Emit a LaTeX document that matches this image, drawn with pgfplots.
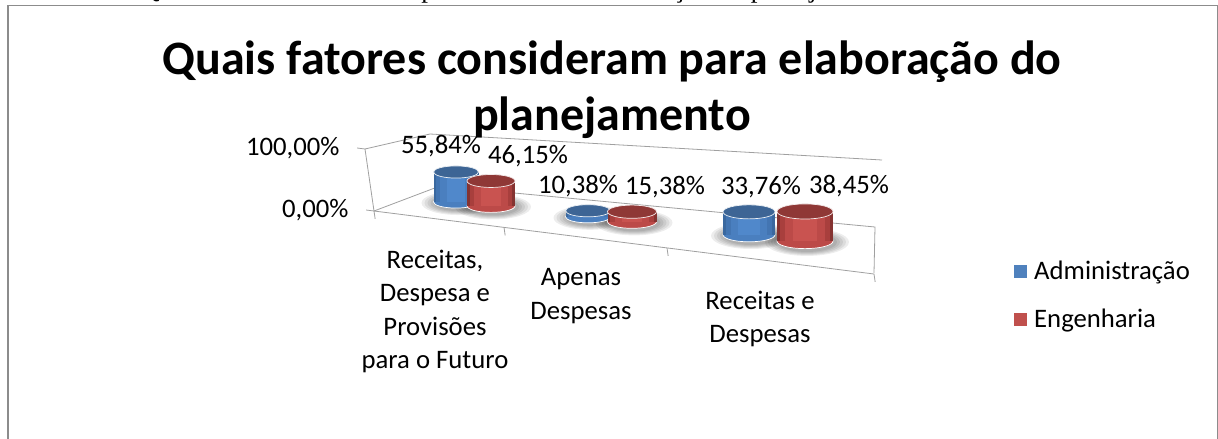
\documentclass[border=0pt]{standalone}
\usepackage{fontspec}
\setmainfont{Carlito}
\newfontfamily\timesf{Liberation Serif}
\usepackage{pgfplots}
\pgfplotsset{compat=1.18}
\definecolor{gridg}{HTML}{A0A0A0}
\definecolor{frameg}{HTML}{8C8C8C}
\definecolor{ba}{HTML}{3A689F}\definecolor{bb}{HTML}{4375B2}\definecolor{bc}{HTML}{4A7FBF}\definecolor{bd}{HTML}{5088CB}\definecolor{bt}{HTML}{3D6595}
\definecolor{ra}{HTML}{853331}\definecolor{rb}{HTML}{A83F3D}\definecolor{rc}{HTML}{BC4A48}\definecolor{rd}{HTML}{C95350}\definecolor{rt}{HTML}{8F3836}
\definecolor{lb}{HTML}{4F81BD}\definecolor{lr}{HTML}{C0504D}
% shadow: x, diameter
\newcommand\shadowlayer[3]{\addplot[only marks,mark=*,mark size={#2/2+#3},mark options={draw opacity=0,fill=black,fill opacity=.07,yscale=.33,xshift=2pt,yshift=-3pt}] coordinates {(#1,0)};}
\newcommand\shadow[2]{\shadowlayer{#1}{#2}{14}\shadowlayer{#1}{#2}{11}\shadowlayer{#1}{#2}{8}\shadowlayer{#1}{#2}{5}\shadowlayer{#1}{#2}{2}}
% cylinder: x, value, px per percent, diameter, colour prefix, label, dx, dy
\newcommand\cyl[8]{%
 \addplot[only marks,mark=*,mark size={#4/2},mark options={draw=white,line width=.7pt,fill=#5c,yscale=.27}] coordinates {(#1,0)};
 \addplot[no markers,line width={#4*1pt},color=#5a,y filter/.expression={y*#3}] coordinates {(#1,0)(#1,#2)};
 \addplot[no markers,line width={#4*.88pt},color=#5b,y filter/.expression={y*#3}] coordinates {(#1,0)(#1,#2)};
 \addplot[no markers,line width={#4*.7pt},color=#5c,y filter/.expression={y*#3}] coordinates {(#1,0)(#1,#2)};
 \addplot[no markers,line width={#4*.42pt},color=#5d,y filter/.expression={y*#3}] coordinates {(#1,0)(#1,#2)};
 \addplot[only marks,mark=*,mark size={#4/2},mark options={draw=white!90!#5t,line width=.7pt,fill=#5t,yscale=.27},y filter/.expression={y*#3},
   nodes near coords={#6},point meta=y,nodes near coords style={anchor=center,text=black,font=\fontsize{26.7}{30}\selectfont,xshift=#7pt,yshift=#8pt}] coordinates {(#1,#2)};
}
\begin{document}
\begin{tikzpicture}[x=1pt,y=-1pt]
\path[use as bounding box] (0,0) rectangle (1218,439);
\fill[white] (0,0) rectangle (1218,439);
% clipped line of body text above the frame
\begin{scope}
\clip (0,0) rectangle (1218,5);
\node[anchor=base west,inner sep=0pt,font=\timesf\fontsize{27}{30}\selectfont] at (140,-2) {Quais fatores consideram para\hspace{4.4em} elaboração do planejamento};
\end{scope}
\draw[frameg,line width=1.3pt] (1217.3,439) -- (1217.3,5.5) -- (7.5,5.5);
\draw[frameg,line width=2pt] (7.5,5) -- (7.5,439);
% walls of the 3D box
\draw[gridg,line width=.8pt] (365,149) -- (430,134) -- (882,160);
\draw[gridg,line width=.8pt] (374,211) -- (440,186) -- (875,227) -- (874,273);
% frame axis
\begin{axis}[at={(374pt,-211pt)},anchor=origin,x={(1pt,-.126pt)},y={(-.09pt,.62pt)},
 xmin=0,xmax=500,ymin=0,ymax=100,clip=false,
 axis x line=bottom,axis y line=left,axis line style={-,gridg,line width=.8pt},
 tick style={gridg,line width=.8pt},major tick length=8pt,tick align=outside,
 xtick={0,130,293,500},xticklabels={},
 ytick={0,100},yticklabels={{0,00\%},{100,00\%}},
 yticklabel style={anchor=east,font=\fontsize{26.7}{30}\selectfont,xshift=-14pt,text=black},
 extra x ticks={61,207,386},
 extra x tick labels={{Receitas,\\Despesa e\\Provisões\\para o Futuro},{Apenas\\Despesas},{Receitas e\\Despesas}},
 extra x tick style={major tick length=0pt,tick style={draw=none},
   xticklabel style={anchor=north,align=center,text=black,yshift=-28pt,font=\fontsize{26.7}{33.4}\selectfont}},
]
\end{axis}
% data axis: floor runs along the line of the cylinder bases
\begin{axis}[at={(374pt,-192.8pt)},anchor=origin,x={(1pt,-.112pt)},y={(0pt,1pt)},
 xmin=0,xmax=500,ymin=0,ymax=100,clip=false,clip mode=individual,hide axis]
\shadow{82}{45}\shadow{117}{48}\shadow{214}{45}\shadow{258}{49}\shadow{375}{52}\shadow{431}{56}
\cyl{82}{55.84}{.537}{45}{b}{55,84\%}{-15}{26}
\cyl{117}{46.15}{.54}{48}{r}{46,15\%}{37}{25}
\cyl{214}{10.38}{.58}{45}{b}{10,38\%}{-10}{25}
\cyl{258}{15.38}{.65}{49}{r}{15,38\%}{33}{25}
\cyl{375}{33.76}{.68}{52}{b}{33,76\%}{12}{25}
\cyl{431}{38.45}{.77}{56}{r}{38,45\%}{44}{25}
\end{axis}
% legend
\begin{axis}[at={(1014pt,-259pt)},anchor=north west,width=150pt,height=100pt,scale only axis,hide axis,xmin=0,xmax=1,ymin=0,ymax=1,
 legend style={at={(0,1)},anchor=north west,draw=none,fill=none,inner sep=0pt,row sep=24pt,font=\fontsize{26.7}{32}\selectfont,
 legend cell align=left},
 legend image code/.code={\fill[#1] (0pt,-6.5pt) rectangle (13pt,6.5pt);\path (18pt,0pt);}]
\addlegendimage{draw=none,fill=lb}\addlegendentry{Administração}
\addlegendimage{draw=none,fill=lr}\addlegendentry{Engenharia}
\end{axis}
% title
\node[anchor=north,align=center,inner sep=0pt,font=\bfseries\fontsize{48}{56}\selectfont] at (612,41) {Quais fatores consideram para elaboração do\\planejamento};
\end{tikzpicture}
\end{document}
